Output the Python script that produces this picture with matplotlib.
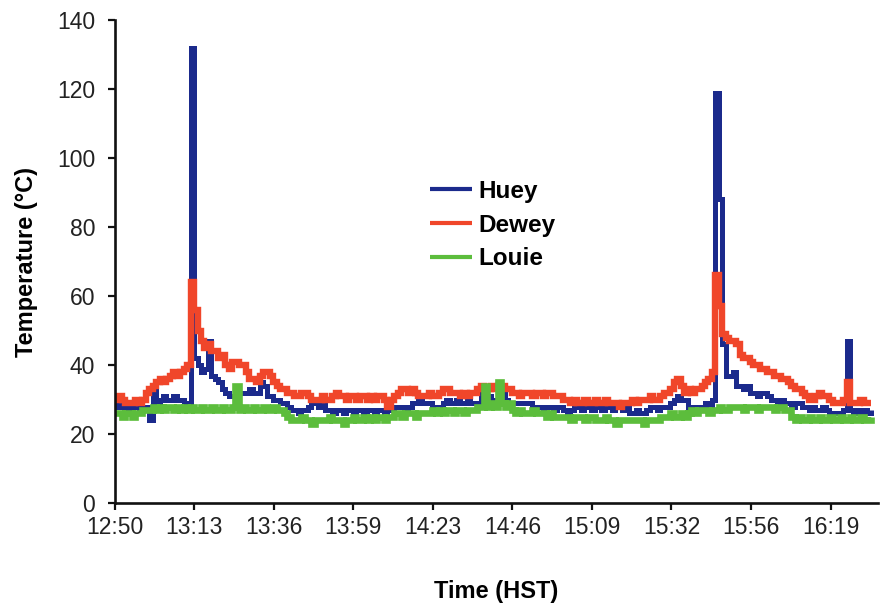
import numpy as np
import matplotlib
matplotlib.use("Agg")
import matplotlib.pyplot as plt

plt.rcParams['font.family'] = ['Liberation Sans', 'DejaVu Sans']

# minutes after 12:50, one reading per minute
huey = [
    28, 29, 28, 28, 27, 28, 28, 27, 28, 28,
    24, 33, 29, 30, 31, 30, 30, 31, 30, 30,
    29, 28, 132, 42, 40, 38, 39, 47, 37, 36,
    35, 33, 32, 31, 31, 31, 32, 32, 32, 33,
    32, 32, 35, 34, 31, 31, 30, 30, 29, 29,
    28, 27, 27, 26, 27, 27, 28, 29, 29, 28,
    29, 27, 27, 26, 27, 27, 26, 27, 27, 26,
    27, 27, 26, 27, 27, 26, 27, 27, 26, 27,
    27, 28, 28, 28, 27, 28, 29, 29, 30, 29,
    29, 29, 28, 28, 28, 29, 30, 29, 29, 30,
    29, 29, 30, 29, 29, 29, 34, 30, 31, 30,
    30, 30, 33, 30, 29, 29, 29, 29, 29, 29,
    29, 28, 28, 28, 27, 28, 28, 27, 28, 28,
    27, 26, 27, 28, 28, 27, 28, 28, 27, 28,
    28, 27, 28, 28, 27, 28, 28, 27, 28, 26,
    26, 27, 26, 26, 27, 28, 28, 27, 28, 28,
    28, 29, 30, 31, 30, 30, 28, 28, 28, 27,
    28, 29, 28, 30, 119, 88, 46, 37, 37, 38,
    34, 34, 33, 34, 32, 32, 31, 32, 32, 31,
    30, 30, 29, 30, 29, 29, 28, 29, 29, 28,
    28, 27, 28, 27, 27, 28, 27, 26, 26, 26,
    26, 27, 47, 27, 26, 27, 26, 27, 26, 27,
]
dewey = [
    30, 31, 30, 29, 29, 29, 30, 29, 30, 32,
    33, 34, 35, 36, 35, 36, 37, 38, 37, 38,
    39, 40, 64, 56, 50, 47, 45, 46, 44, 44,
    42, 43, 40, 39, 41, 41, 40, 40, 38, 36,
    36, 35, 37, 38, 38, 37, 35, 34, 33, 33,
    32, 32, 31, 31, 32, 32, 31, 30, 30, 30,
    31, 30, 30, 31, 32, 31, 31, 30, 31, 31,
    30, 31, 31, 30, 31, 30, 31, 31, 30, 28,
    30, 31, 32, 33, 33, 32, 33, 32, 31, 31,
    31, 32, 31, 31, 32, 33, 33, 32, 32, 32,
    31, 32, 31, 32, 32, 33, 34, 33, 33, 34,
    33, 34, 34, 33, 33, 32, 32, 31, 32, 32,
    32, 31, 32, 32, 31, 32, 32, 31, 31, 31,
    30, 30, 29, 30, 29, 29, 30, 29, 29, 30,
    29, 29, 30, 29, 29, 29, 28, 29, 29, 29,
    30, 29, 30, 30, 30, 31, 30, 30, 31, 32,
    32, 33, 35, 36, 34, 32, 33, 32, 33, 33,
    34, 35, 36, 38, 66, 57, 49, 48, 47, 47,
    46, 43, 42, 42, 41, 40, 40, 39, 39, 38,
    38, 37, 37, 36, 36, 35, 34, 33, 33, 32,
    31, 30, 30, 31, 32, 31, 31, 30, 29, 29,
    29, 30, 35, 29, 29, 29, 30, 29, 29, 29,
]
louie = [
    26, 26, 25, 26, 26, 25, 26, 26, 27, 27,
    27, 28, 27, 28, 27, 28, 28, 27, 28, 27,
    28, 27, 28, 27, 27, 28, 27, 27, 28, 27,
    27, 28, 27, 27, 28, 34, 27, 28, 27, 27,
    28, 27, 27, 28, 27, 27, 28, 27, 27, 26,
    25, 24, 24, 24, 25, 24, 24, 23, 24, 24,
    24, 24, 25, 24, 24, 24, 23, 24, 24, 25,
    24, 24, 25, 24, 25, 24, 25, 25, 24, 25,
    25, 26, 26, 25, 26, 26, 26, 25, 26, 26,
    26, 26, 27, 26, 27, 26, 27, 27, 26, 27,
    27, 26, 27, 27, 27, 28, 28, 34, 28, 29,
    28, 35, 29, 28, 29, 27, 26, 27, 26, 26,
    26, 27, 26, 26, 26, 25, 26, 25, 25, 25,
    25, 25, 24, 25, 25, 25, 24, 25, 25, 24,
    24, 24, 25, 24, 24, 23, 24, 24, 24, 24,
    24, 24, 24, 23, 24, 24, 24, 24, 25, 25,
    25, 26, 25, 25, 26, 25, 26, 27, 26, 27,
    27, 27, 26, 27, 27, 28, 27, 27, 28, 28,
    28, 28, 27, 28, 28, 28, 27, 28, 28, 28,
    28, 27, 28, 28, 27, 27, 25, 24, 25, 24,
    24, 25, 24, 24, 25, 24, 24, 25, 24, 24,
    25, 24, 24, 25, 24, 24, 25, 24, 24, 25,
]
minutes = np.arange(len(huey))

tick_labels = ["12:50", "13:13", "13:36", "13:59", "14:23",
               "14:46", "15:09", "15:32", "15:56", "16:19"]
tick_step = 23.04  # minutes between axis labels

fig = plt.figure(figsize=(8.82, 6.07), dpi=100)
ax = fig.add_axes([0.130, 0.171, 0.865, 0.796])

style = dict(drawstyle="steps-post", solid_joinstyle="miter", solid_capstyle="butt")
ax.plot(minutes, huey, color="#1b2a8c", lw=3.6, label="Huey", **style)
ax.plot(minutes, dewey, color="#f0462a", lw=4.6, label="Dewey", **style)
ax.plot(minutes, louie, color="#5cbd3c", lw=4.8, label="Louie", **style)

ax.set_xlim(0, 221)
ax.set_ylim(0, 140)
ax.set_yticks(range(0, 141, 20))
ax.set_xticks([i * tick_step for i in range(len(tick_labels))])
ax.set_xticklabels(tick_labels)

for s in ["top", "right"]:
    ax.spines[s].set_visible(False)
for s in ["left", "bottom"]:
    ax.spines[s].set_linewidth(1.9)
    ax.spines[s].set_color("#111111")

ax.tick_params(axis="both", labelsize=16.5, colors="#111111", labelcolor="#222222",
               width=1.6, length=5, direction="out")
ax.tick_params(axis="y", pad=9)
ax.tick_params(axis="x", pad=4)

ax.set_ylabel("Temperature (\u00b0C)", fontsize=17, fontweight="bold")
ax.set_xlabel("Time (HST)", fontsize=17, fontweight="bold")
ax.yaxis.set_label_coords(-0.101, 0.5)
ax.xaxis.set_label_coords(0.5, -0.158)

leg = ax.legend(loc="upper left", bbox_to_anchor=(0.385, 0.715), frameon=False,
                handlelength=1.7, handletextpad=0.3, labelspacing=0.45,
                prop={"size": 17.5, "weight": "bold"})
for line in leg.get_lines():
    line.set_linewidth(3)

fig.savefig("out.png", dpi=100, facecolor="white")
